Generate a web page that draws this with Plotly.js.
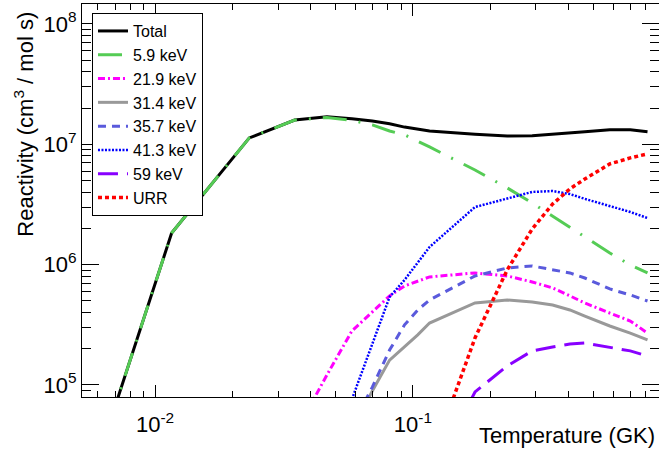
<!DOCTYPE html>
<html>
<head>
<meta charset="utf-8">
<script src="https://cdn.plot.ly/plotly-3.0.1.min.js"></script>
<style>
html,body{margin:0;padding:0;background:#fff;}
#chart{width:659px;height:450px;}
</style>
</head>
<body>
<div id="chart"></div>
<script>
// Temperature grid (GK)
const temperature = [0.0058, 0.0116, 0.0232, 0.0348, 0.0464, 0.0580, 0.0696, 0.0812, 0.0928, 0.1044,
                     0.1160, 0.1741, 0.2321, 0.2901, 0.3481, 0.4062, 0.4642, 0.5802, 0.6963, 0.8123];

// Reactivities (cm^3 / mol s)
const total   = [1.93e4, 1.83e6, 1.13e7, 1.59e7, 1.69e7, 1.63e7, 1.56e7, 1.48e7, 1.39e7, 1.34e7,
                 1.29e7, 1.21e7, 1.17e7, 1.18e7, 1.22e7, 1.24e7, 1.27e7, 1.32e7, 1.32e7, 1.27e7];
const r5_9    = [1.93e4, 1.83e6, 1.13e7, 1.59e7, 1.67e7, 1.58e7, 1.45e7, 1.29e7, 1.20e7, 1.07e7,
                 9.51e6, 6.12e6, 4.34e6, 3.25e6, 2.54e6, 2.06e6, 1.70e6, 1.25e6, 9.93e5, 8.53e5];
const r21_9   = [null, null, null, 3.9e4, 1.21e5, 2.81e5, 4.05e5, 5.50e5, 6.65e5, 7.31e5,
                 7.91e5, 8.53e5, 8.05e5, 7.18e5, 6.40e5, 5.50e5, 4.80e5, 3.96e5, 3.40e5, 2.70e5];
const r31_4   = [null, null, null, null, null, 4.2e4, 8.9e4, 1.61e5, 2.07e5, 2.61e5,
                 3.27e5, 4.80e5, 5.08e5, 4.90e5, 4.62e5, 4.20e5, 3.74e5, 3.09e5, 2.70e5, 2.37e5];
const r35_7   = [null, null, null, null, null, 4.5e4, 9.6e4, 1.95e5, 3.16e5, 4.20e5,
                 5.08e5, 8.05e5, 9.38e5, 9.75e5, 9.04e5, 8.53e5, 7.74e5, 6.28e5, 5.60e5, 4.99e5];
const r41_3   = [null, null, null, null, null, 7.6e4, 2.15e5, 5.38e5, 7.46e5, 1.05e6,
                 1.40e6, 3.01e6, 3.52e6, 4.02e6, 4.09e6, 3.86e6, 3.52e6, 3.08e6, 2.74e6, 2.44e6];
const r59     = [null, null, null, null, null, null, null, null, null, null,
                 1.6e4, 8.75e4, 1.44e5, 1.92e5, 2.07e5, 2.19e5, 2.23e5, 2.07e5, 1.92e5, 1.74e5];
const urr     = [null, null, null, null, null, null, null, null, null, null,
                 2.2e4, 2.46e5, 9.04e5, 1.98e6, 3.19e6, 4.26e6, 5.15e6, 6.87e6, 7.71e6, 8.32e6];

const seriesNames = ['Total', '5.9 keV', '21.9 keV', '31.4 keV', '35.7 keV', '41.3 keV', '59 keV', 'URR'];

// Axis ticks
const xTickVals = [0.01, 0.1];
const xTickText = ['10<sup>-2</sup>', '10<sup>-1</sup>'];
const yTickVals = [1e5, 1e6, 1e7, 1e8];
const yTickText = ['10<sup>5</sup>', '10<sup>6</sup>', '10<sup>7</sup>', '10<sup>8</sup>'];

function minorTicks(decades) {
  const out = [];
  decades.forEach(d => { for (let m = 2; m <= 9; m++) out.push(m * d); });
  return out;
}
const xMinor = minorTicks([0.001, 0.01, 0.1]);
const yMinor = minorTicks([1e4, 1e5, 1e6, 1e7, 1e8]);

const styles = [
  {color: '#000000', width: 3, dash: 'solid'},
  {color: '#55cc55', width: 3, dash: '24px,12px,2px,12px'},
  {color: '#ff00ff', width: 3, dash: '7px,3px,2px,3px'},
  {color: '#999999', width: 3, dash: 'solid'},
  {color: '#5a5adc', width: 3, dash: '8px,6px'},
  {color: '#0000ff', width: 2.5, dash: '2px,1.5px'},
  {color: '#8800ff', width: 3, dash: '20px,9px'},
  {color: '#ff0000', width: 3.5, dash: '4px,3px'}
];
const values = [total, r5_9, r21_9, r31_4, r35_7, r41_3, r59, urr];

const traces = values.map((v, i) => ({
  x: temperature,
  y: v,
  name: seriesNames[i],
  type: 'scatter',
  mode: 'lines',
  connectgaps: false,
  line: styles[i]
}));

const font = 'Liberation Sans, Arial, Helvetica, sans-serif';

const layout = {
  width: 659,
  height: 450,
  margin: {l: 82, r: 0, t: 4, b: 53},
  paper_bgcolor: '#ffffff',
  plot_bgcolor: '#ffffff',
  font: {family: font, color: '#000000', size: 22},
  showlegend: true,
  legend: {
    x: 0.0173, y: 0.977, xanchor: 'left', yanchor: 'top',
    bgcolor: '#ffffff', bordercolor: '#000000', borderwidth: 1,
    font: {family: font, size: 16, color: '#000000'},
    tracegroupgap: 0
  },
  xaxis: {
    type: 'log',
    range: [Math.log10(0.00521), Math.log10(0.9)],
    tickmode: 'array', tickvals: xTickVals, ticktext: xTickText,
    ticks: 'inside', ticklen: 12, tickwidth: 1, tickcolor: '#000000',
    ticklabelstandoff: 8,
    minor: {tickmode: 'array', tickvals: xMinor, ticks: 'inside', ticklen: 6, tickwidth: 1, tickcolor: '#000000', showgrid: false},
    showline: true, linecolor: '#000000', linewidth: 1, mirror: 'allticks',
    showgrid: false, zeroline: false,
    tickfont: {family: font, size: 22, color: '#000000'}
  },
  yaxis: {
    type: 'log',
    range: [4.9, 8.166],
    tickmode: 'array', tickvals: yTickVals, ticktext: yTickText,
    ticks: 'inside', ticklen: 17, tickwidth: 1, tickcolor: '#000000',
    minor: {tickmode: 'array', tickvals: yMinor, ticks: 'inside', ticklen: 9, tickwidth: 1, tickcolor: '#000000', showgrid: false},
    showline: true, linecolor: '#000000', linewidth: 1, mirror: 'allticks',
    showgrid: false, zeroline: false,
    tickfont: {family: font, size: 22, color: '#000000'}
  },
  annotations: [
    {
      text: 'Temperature (GK)', xref: 'paper', yref: 'paper',
      x: 0.9965, y: -0.0967, xanchor: 'right', yanchor: 'middle',
      showarrow: false, font: {family: font, size: 22, color: '#000000'}
    },
    {
      text: 'Reactivity (cm<sup>3</sup> / mol s)', xref: 'paper', yref: 'paper',
      x: -0.1, y: 0.985, xanchor: 'center', yanchor: 'top', textangle: -90,
      showarrow: false, font: {family: font, size: 22, color: '#000000'}
    }
  ]
};

Plotly.newPlot('chart', traces, layout, {staticPlot: true, displayModeBar: false});
</script>
</body>
</html>
